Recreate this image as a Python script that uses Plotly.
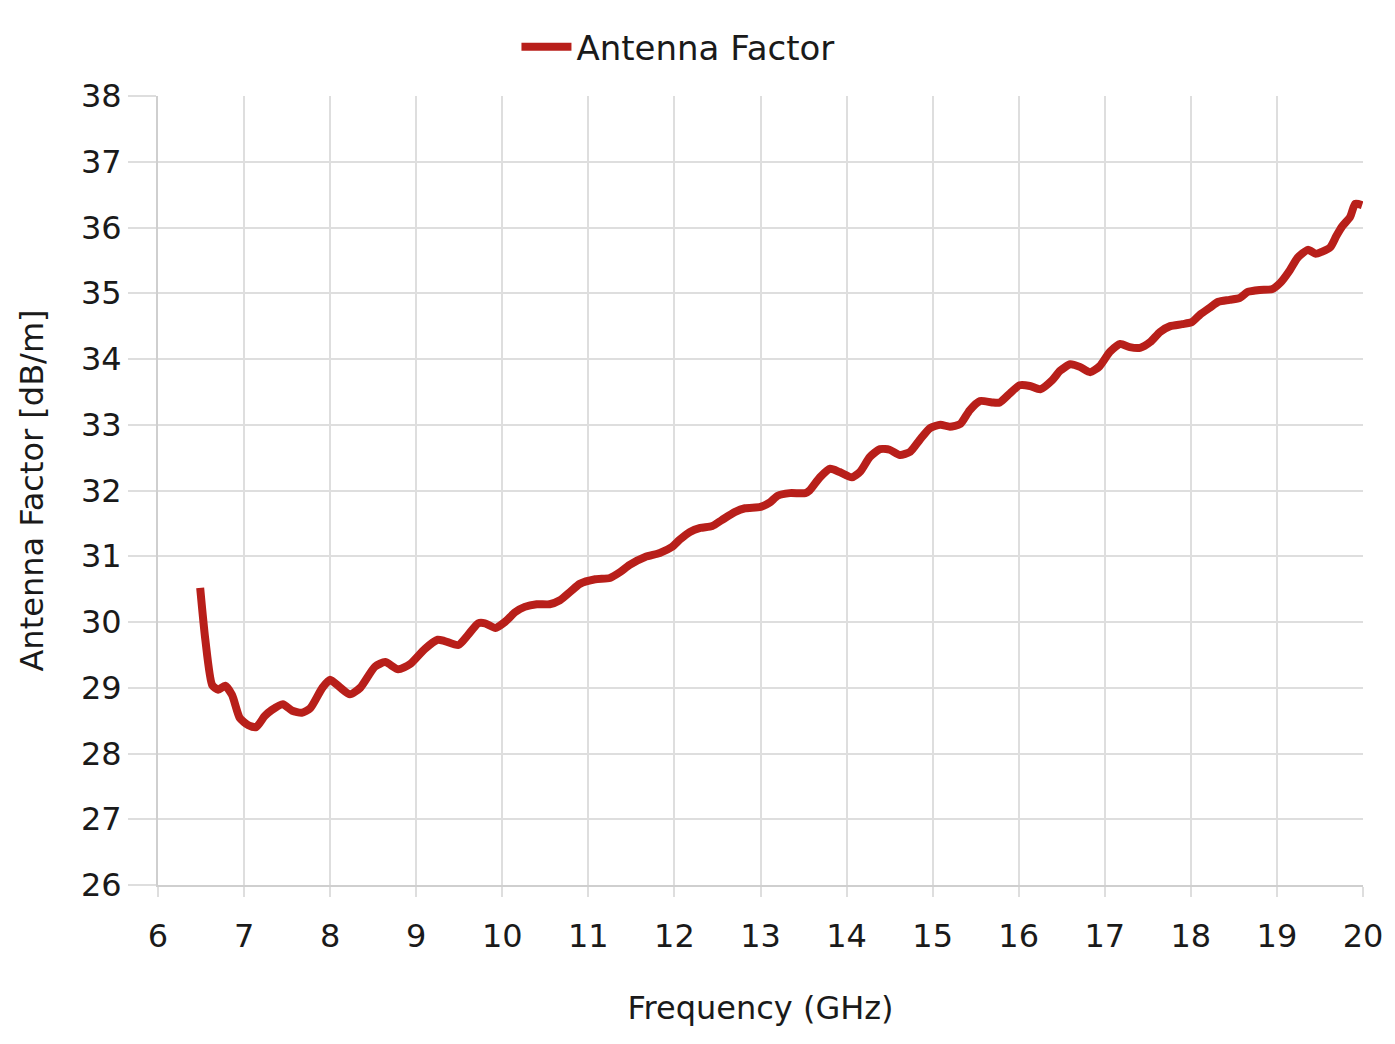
import plotly.graph_objects as go

freq_ghz = [6.49, 6.55, 6.63, 6.70, 6.78, 6.86, 6.95, 7.05, 7.14, 7.24, 7.32, 7.45, 7.56, 7.67, 7.77,
            7.91, 8.00, 8.11, 8.23, 8.35, 8.52, 8.64, 8.79, 8.93, 9.10, 9.25, 9.33, 9.49, 9.60, 9.72,
            9.80, 9.92, 10.03, 10.15, 10.26, 10.40, 10.55, 10.67, 10.79, 10.90, 11.08, 11.25, 11.37,
            11.48, 11.66, 11.83, 11.97, 12.06, 12.18, 12.30, 12.44, 12.55, 12.70, 12.82, 13.00, 13.11,
            13.20, 13.34, 13.52, 13.57, 13.69, 13.81, 13.92, 14.06, 14.16, 14.27, 14.39, 14.50, 14.62,
            14.74, 14.85, 14.97, 15.09, 15.20, 15.32, 15.43, 15.55, 15.69, 15.78, 15.90, 16.01, 16.13,
            16.25, 16.39, 16.48, 16.60, 16.71, 16.83, 16.94, 17.06, 17.18, 17.29, 17.41, 17.53, 17.64,
            17.76, 17.90, 18.01, 18.11, 18.22, 18.32, 18.45, 18.57, 18.66, 18.80, 18.94, 19.04, 19.15,
            19.24, 19.36, 19.45, 19.52, 19.62, 19.69, 19.76, 19.85, 19.91, 19.99]
antenna_factor = [30.52, 29.73, 29.04, 28.97, 29.03, 28.89, 28.54, 28.43, 28.40, 28.57, 28.66, 28.75,
                  28.65, 28.62, 28.69, 29.00, 29.12, 29.01, 28.90, 29.00, 29.32, 29.39, 29.28, 29.36,
                  29.59, 29.73, 29.71, 29.65, 29.80, 29.98, 29.98, 29.91, 30.00, 30.15, 30.23, 30.27,
                  30.27, 30.33, 30.46, 30.58, 30.65, 30.67, 30.76, 30.87, 30.99, 31.05, 31.14, 31.25,
                  31.37, 31.43, 31.46, 31.55, 31.67, 31.73, 31.75, 31.82, 31.92, 31.96, 31.96, 32.00,
                  32.20, 32.33, 32.28, 32.20, 32.29, 32.51, 32.63, 32.62, 32.54, 32.59, 32.77, 32.95,
                  33.00, 32.97, 33.01, 33.22, 33.36, 33.34, 33.34, 33.48, 33.60, 33.59, 33.54, 33.68,
                  33.82, 33.92, 33.88, 33.80, 33.89, 34.11, 34.23, 34.18, 34.17, 34.26, 34.41, 34.50,
                  34.53, 34.56, 34.68, 34.78, 34.87, 34.90, 34.93, 35.02, 35.05, 35.06, 35.16, 35.35,
                  35.54, 35.66, 35.60, 35.63, 35.70, 35.87, 36.02, 36.16, 36.36, 36.34]

FONT = "DejaVu Sans"
GRID = "#dedede"

fig = go.Figure()
fig.add_trace(go.Scatter(
    x=freq_ghz, y=antenna_factor, mode="lines", name="Antenna Factor",
    line=dict(color="#b81f1a", width=8, shape="spline", smoothing=0.6),
))

fig.update_layout(
    width=1395, height=1044,
    margin=dict(l=150, r=40, t=88, b=167, autoexpand=False),
    paper_bgcolor="white", plot_bgcolor="white",
    font=dict(family=FONT, size=32, color="#1a1a1a"),
    showlegend=True,
    legend=dict(orientation="h", x=0.4315, xanchor="center", y=1.062, yanchor="middle",
                font=dict(size=34), itemwidth=50),
    xaxis=dict(range=[6, 20], dtick=1, tick0=6, showgrid=True, gridcolor=GRID, gridwidth=2,
               showline=True, linecolor="#cfcfcf", linewidth=2,
               ticks="outside", ticklen=10, tickwidth=2, tickcolor=GRID, ticklabelstandoff=12,
               title=dict(text="Frequency (GHz)", standoff=42, font=dict(size=32)),
               zeroline=False),
    yaxis=dict(range=[26, 38], dtick=1, tick0=26, showgrid=True, gridcolor=GRID, gridwidth=2,
               showline=True, linecolor="#cfcfcf", linewidth=2,
               ticks="outside", ticklen=28, tickwidth=2, tickcolor=GRID,
               title=dict(text="Antenna Factor [dB/m]", standoff=28, font=dict(size=32)),
               zeroline=False),
)

fig.write_html("out.html")
